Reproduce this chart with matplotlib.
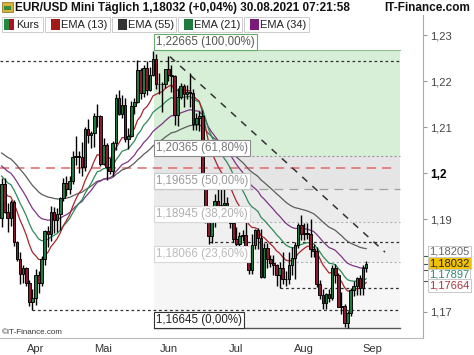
import numpy as np
import pandas as pd
import matplotlib
matplotlib.use("Agg")
import matplotlib.pyplot as plt
import matplotlib.transforms as mtransforms
from matplotlib.patches import Rectangle

plt.rcParams['font.family'] = ['Liberation Sans', 'DejaVu Sans']

# daily bars, 17.03.2021 - 30.08.2021 (weekdays)
dates = pd.bdate_range('2021-03-17', '2021-08-30')

opens = [1.1903, 1.1977, 1.1915, 1.1904, 1.1937, 1.1851, 1.1813, 1.1782, 1.1794, 1.1763, 1.1720,
         1.1729, 1.1779, 1.1762, 1.1813, 1.1874, 1.1869, 1.1915, 1.1899, 1.1912, 1.1946, 1.1979,
         1.1966, 1.1983, 1.2036, 1.2037, 1.2035, 1.2013, 1.2097, 1.2082, 1.2087, 1.2125, 1.2124,
         1.2020, 1.2061, 1.2013, 1.2004, 1.2066, 1.2164, 1.2128, 1.2149, 1.2075, 1.2081, 1.2145,
         1.2154, 1.2224, 1.2174, 1.2228, 1.2180, 1.2214, 1.2249, 1.2193, 1.2193, 1.2193, 1.2226,
         1.2214, 1.2211, 1.2126, 1.2166, 1.2190, 1.2173, 1.2177, 1.2174, 1.2107, 1.2120, 1.2124,
         1.1996, 1.1908, 1.1864, 1.1916, 1.1940, 1.1926, 1.1932, 1.1936, 1.1925, 1.1893, 1.1858,
         1.1846, 1.1864, 1.1866, 1.1823, 1.1790, 1.1844, 1.1876, 1.1860, 1.1776, 1.1838, 1.1813,
         1.1806, 1.1802, 1.1780, 1.1795, 1.1771, 1.1770, 1.1800, 1.1817, 1.1844, 1.1887, 1.1868,
         1.1870, 1.1869, 1.1836, 1.1832, 1.1760, 1.1737, 1.1719, 1.1738, 1.1730, 1.1795, 1.1780,
         1.1711, 1.1713, 1.1676, 1.1697, 1.1746, 1.1756, 1.1772, 1.1751, 1.1795]
highs = [1.1989, 1.1990, 1.1935, 1.1943, 1.1942, 1.1854, 1.1830, 1.1800, 1.1797, 1.1768, 1.1749,
         1.1792, 1.1788, 1.1820, 1.1877, 1.1885, 1.1928, 1.1927, 1.1925, 1.1948, 1.1990, 1.1994,
         1.1994, 1.2048, 1.2080, 1.2049, 1.2067, 1.2101, 1.2117, 1.2092, 1.2130, 1.2150, 1.2127,
         1.2076, 1.2066, 1.2033, 1.2071, 1.2173, 1.2181, 1.2169, 1.2164, 1.2098, 1.2157, 1.2163,
         1.2245, 1.2228, 1.2234, 1.2244, 1.2230, 1.2266, 1.2258, 1.2217, 1.2197, 1.2226, 1.2254,
         1.2235, 1.2214, 1.2185, 1.2196, 1.2194, 1.2192, 1.2218, 1.2182, 1.2130, 1.2135, 1.2138,
         1.1999, 1.1921, 1.1922, 1.1955, 1.1972, 1.1975, 1.1975, 1.1949, 1.1929, 1.1896, 1.1884,
         1.1873, 1.1876, 1.1895, 1.1840, 1.1868, 1.1880, 1.1881, 1.1880, 1.1849, 1.1848, 1.1822,
         1.1823, 1.1804, 1.1807, 1.1830, 1.1787, 1.1830, 1.1840, 1.1850, 1.1893, 1.1909, 1.1892,
         1.1892, 1.1900, 1.1846, 1.1840, 1.1768, 1.1750, 1.1741, 1.1749, 1.1800, 1.1803, 1.1784,
         1.1743, 1.1717, 1.1702, 1.1752, 1.1766, 1.1776, 1.1780, 1.1801, 1.1810]
lows = [1.1884, 1.1914, 1.1873, 1.1886, 1.1843, 1.1809, 1.1760, 1.1762, 1.1755, 1.1712, 1.1704,
        1.1714, 1.1740, 1.1756, 1.1800, 1.1841, 1.1853, 1.1870, 1.1872, 1.1876, 1.1940, 1.1950,
        1.1955, 1.1976, 1.2019, 1.2001, 1.1995, 1.2005, 1.2066, 1.2054, 1.2057, 1.2100, 1.2016,
        1.2018, 1.1986, 1.1998, 1.1994, 1.2051, 1.2127, 1.2119, 1.2068, 1.2052, 1.2078, 1.2128,
        1.2152, 1.2161, 1.2166, 1.2169, 1.2179, 1.2210, 1.2183, 1.2172, 1.2133, 1.2186, 1.2201,
        1.2177, 1.2104, 1.2103, 1.2161, 1.2144, 1.2162, 1.2144, 1.2094, 1.2093, 1.2091, 1.1986,
        1.1892, 1.1847, 1.1848, 1.1883, 1.1913, 1.1918, 1.1920, 1.1907, 1.1882, 1.1850, 1.1836,
        1.1807, 1.1854, 1.1807, 1.1782, 1.1781, 1.1836, 1.1836, 1.1772, 1.1773, 1.1795, 1.1797,
        1.1780, 1.1756, 1.1752, 1.1760, 1.1755, 1.1760, 1.1779, 1.1770, 1.1838, 1.1855, 1.1855,
        1.1857, 1.1818, 1.1819, 1.1754, 1.1728, 1.1706, 1.1705, 1.1721, 1.1726, 1.1763, 1.1711,
        1.1694, 1.1666, 1.1664, 1.1691, 1.1734, 1.1735, 1.1735, 1.1736, 1.1785]
closes = [1.1977, 1.1915, 1.1904, 1.1937, 1.1851, 1.1813, 1.1782, 1.1794, 1.1763, 1.1720, 1.1729,
          1.1779, 1.1762, 1.1813, 1.1874, 1.1869, 1.1915, 1.1899, 1.1912, 1.1946, 1.1979, 1.1966,
          1.1983, 1.2036, 1.2037, 1.2035, 1.2013, 1.2097, 1.2082, 1.2087, 1.2125, 1.2124, 1.2020,
          1.2061, 1.2013, 1.2004, 1.2066, 1.2164, 1.2128, 1.2149, 1.2075, 1.2081, 1.2145, 1.2154,
          1.2224, 1.2174, 1.2228, 1.2180, 1.2214, 1.2249, 1.2193, 1.2193, 1.2193, 1.2226, 1.2214,
          1.2211, 1.2126, 1.2166, 1.2190, 1.2173, 1.2177, 1.2174, 1.2107, 1.2120, 1.2124, 1.1996,
          1.1908, 1.1864, 1.1916, 1.1940, 1.1926, 1.1932, 1.1936, 1.1925, 1.1893, 1.1858, 1.1846,
          1.1864, 1.1866, 1.1823, 1.1790, 1.1844, 1.1876, 1.1860, 1.1776, 1.1838, 1.1813, 1.1806,
          1.1802, 1.1780, 1.1795, 1.1771, 1.1770, 1.1800, 1.1817, 1.1844, 1.1887, 1.1868, 1.1870,
          1.1869, 1.1836, 1.1832, 1.1760, 1.1737, 1.1719, 1.1738, 1.1730, 1.1795, 1.1780, 1.1711,
          1.1713, 1.1676, 1.1697, 1.1746, 1.1756, 1.1772, 1.1751, 1.1795, 1.1803]

# EMAs: period, value on the first day, colour
ema_periods = [55, 34, 21, 13]
ema_start = [1.2044, 1.2016, 1.1994, 1.1966]
ema_colors = ['#5c5c5c', '#7d3585', '#2f8a58', '#a8262e']

# fibonacci retracement
fib_levels = [1.22665, 1.20365, 1.19655, 1.18945, 1.18066, 1.16645]
fib_pct = ['100,00%', '61,80%', '50,00%', '38,20%', '23,60%', '0,00%']
fib_from, fib_to = 49.3, 129.0

# support / resistance lines: (value, first bar)
sr_lines = [(1.2244, -0.5), (1.1850, 67), (1.1752, 90), (1.1703, 10)]
red_line = 1.2012
trend_x = [54.5, 124.1]
trend_y = [1.2253, 1.1829]

month_labels = ['Apr', 'Mai', 'Jun', 'Jul', 'Aug', 'Sep']
ytick_vals = [1.17, 1.19, 1.20, 1.21, 1.22, 1.23]

last_labels = ['1,17897', '1,17664', '1,18205', '1,18032']
last_values = [1.18205, 1.18032, 1.17897, 1.17664]


def ema(vals, n, start):
    a = 2.0 / (n + 1)
    out = [start]
    for v in vals[1:]:
        out.append(out[-1] + a * (v - out[-1]))
    return out


W, H = 474, 355
fig = plt.figure(figsize=(W / 100, H / 100), dpi=100)
ax = fig.add_axes([0, 17 / H, 423 / W, 323 / H])
ax.set_xlim(-0.5, 136.4)
ax.set_ylim(1.16427, 1.23434)

x = np.arange(len(closes))
o = np.array(opens); c = np.array(closes)

# fib zones
zone_colors = ['#d7eed7', '#e5e5e5', '#ebebeb', '#f0f0f0', '#f6f6f6']
for i in range(5):
    ax.fill_between([fib_from, fib_to], fib_levels[i + 1], fib_levels[i],
                    color=zone_colors[i], lw=0, zorder=0)
lv_style = [('#8cc08c', '-', 0.8), ('#9a9a9a', (0, (2, 2)), 0.8), ('#a0a0a0', (0, (7, 5)), 0.9),
            ('#b5b5b5', (0, (2, 2)), 0.8), ('#b0b0b0', (0, (2, 2)), 0.8), ('#555555', '-', 1.0)]
lab_style = [('#555555', '#6aaa6a'), ('#777777', '#8a8a8a'), ('#9a9a9a', '#c8c8c8'),
             ('#b0b0b0', '#d8d8d8'), ('#bbbbbb', '#d8d8d8'), ('#222222', '#333333')]
for i, lv in enumerate(fib_levels):
    col, ls, lw = lv_style[i]
    ax.plot([fib_from, fib_to], [lv, lv], color=col, ls=ls, lw=lw, zorder=1)
    tc, ec = lab_style[i]
    ax.annotate('%s (%s)' % (('%.5f' % lv).replace('.', ','), fib_pct[i]), xy=(fib_from, lv),
                xytext=(1.5, 1.6), textcoords='offset points', ha='left', va='bottom',
                fontsize=8.3, color=tc, zorder=8,
                bbox=dict(boxstyle='square,pad=0.18', fc='white', ec=ec, lw=0.8))

# horizontal lines
for val, start in sr_lines:
    ax.plot([start, fib_to], [val, val], color='#333333', lw=0.9, ls=(0, (2.2, 2.2)), zorder=2)
ax.plot([-0.5, 127.5], [red_line, red_line], color='#e06a6a', lw=1.1, ls=(0, (6, 4)), zorder=2)
ax.plot(trend_x, trend_y, color='#333333', lw=1.1, ls=(0, (4.5, 4.5)), zorder=2)

# EMAs
for n, s, col in zip(ema_periods, ema_start, ema_colors):
    ax.plot(x, ema(closes, n, s), color=col, lw=0.9, zorder=3)

# candles
ax.vlines(x, lows, highs, color='black', lw=1.0, zorder=4)
body_col = np.where(c >= o, '#1f7a3e', '#8a1b2e')
ax.bar(x, c - o, bottom=o, width=0.85, color=body_col, edgecolor='black', linewidth=0.65, zorder=5)

# axes styling
for s in ['top', 'left']:
    ax.spines[s].set_visible(False)
ax.spines['right'].set_color('#aaaaaa')
ax.spines['bottom'].set_color('#bbbbbb')
ax.yaxis.tick_right()
ax.set_yticks(ytick_vals)
ax.set_yticklabels([('%.2f' % v).rstrip('0').replace('.', ',') for v in ytick_vals])
ax.tick_params(axis='y', length=3, color='#999999', labelsize=8, labelcolor='#444444', pad=2)
for t in ax.get_yticklabels():
    if t.get_text() == '1,2':
        t.set_fontweight('bold')
        t.set_color('black')
        t.set_fontsize(8.5)
all_days = pd.bdate_range('2021-03-17', '2021-09-30')
first = [np.where((all_days.month == m))[0][0] for m in [4, 5, 6, 7, 8, 9]]
ax.set_xticks(first)
ax.set_xticklabels(month_labels)
ax.tick_params(axis='x', length=0, labelsize=8, labelcolor='#333333', pad=4)

# last value boxes on the right
trans = mtransforms.blended_transform_factory(ax.transAxes, ax.transData)
for v in last_values:
    ax.plot([1.0, 1.012], [v, v], transform=trans, color='#555555', lw=0.8, clip_on=False)
lab_y = [274.5, 285.5, 252, 263]
lab_col = [('#2f8a68', 'white'), ('#b03040', 'white'),
           ('#666666', 'white'), ('#222222', '#f2c200')]
for txt, yy, (tc, fc) in zip(last_labels, lab_y, lab_col):
    fig.text(429 / W, 1 - yy / H, txt, fontsize=8, color=tc, ha='left', va='center',
             bbox=dict(boxstyle='square,pad=0.12', fc=fc, ec='#c8c8c8', lw=0.7))

# header, legend and copyright in pixel coords
ov = fig.add_axes([0, 0, 1, 1], zorder=10)
ov.set_xlim(0, W); ov.set_ylim(H, 0); ov.axis('off'); ov.patch.set_alpha(0)
ov.add_patch(Rectangle((2, 2), 11, 10, fc='#d9b43a', ec='#7a6a20', lw=0.5))
ov.add_patch(Rectangle((4, 6), 7, 4, fc='#3a8a3a', lw=0))
ov.text(15, 8, 'EUR/USD Mini Täglich 1,18032 (+0,04%) 30.08.2021 07:21:58', fontsize=8.5,
        fontweight='bold', va='center', ha='left', color='#111111')
ov.text(470, 8, 'IT-Finance.com', fontsize=8.5, fontweight='bold', va='center', ha='right',
        color='#111111')
leg = [('Kurs', None, 2, 43), ('EMA (13)', '#a31818', 45, 110), ('EMA (55)', '#333333', 112, 176),
       ('EMA (21)', '#1f7a40', 178, 242), ('EMA (34)', '#7a1a7a', 244, 309)]
for name, col, x0, x1 in leg:
    ov.add_patch(Rectangle((x0, 17), x1 - x0, 15, fc='white', ec='#cccccc', lw=0.7))
    if col is None:
        ov.add_patch(Rectangle((x0 + 2, 19), 5, 11, fc='#1f8a40', lw=0))
        ov.add_patch(Rectangle((x0 + 7, 19), 5, 11, fc='#b0101e', lw=0))
        tx = x0 + 14
    else:
        ov.add_patch(Rectangle((x0 + 6, 19), 9, 11, fc=col, lw=0))
        tx = x0 + 16
    ov.text(tx, 24.8, name, fontsize=8, va='center', ha='left', color='#222222')
ov.text(2, 333, '©IT-Finance.com', fontsize=5.8, va='center', ha='left', color='#333333')

fig.savefig('out.png', dpi=100)
